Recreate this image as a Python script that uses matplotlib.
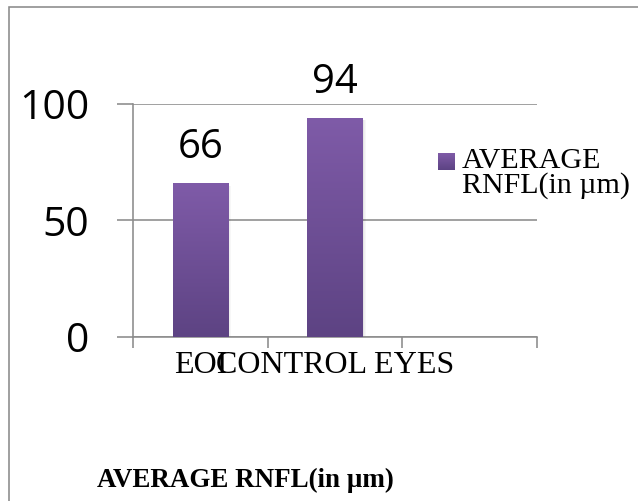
import numpy as np
import matplotlib
matplotlib.use("Agg")
import matplotlib.pyplot as plt
from matplotlib.patches import Rectangle
from matplotlib.colors import LinearSegmentedColormap

# data
categories = ["EOI", "CONTROL EYES"]
values = [66, 94]
series_name = "AVERAGE\nRNFL(in µm)"
chart_title = "AVERAGE RNFL(in µm)"
y_ticks = [0, 50, 100]

W, H = 638, 501
DPI = 100
PX = 72 / DPI  # points per pixel

fig = plt.figure(figsize=(W / DPI, H / DPI), dpi=DPI)
fig.patch.set_facecolor("white")

grid_col = "#8c8c8c"
top_col = "#7f5ba8"
bot_col = "#5d4383"

# outer chart frame (extends past right and bottom edges)
frame = Rectangle((9 / W, -0.1), 1.2, (H - 7) / H + 0.1,
                  transform=fig.transFigure, fill=False,
                  edgecolor="#8a8a8a", linewidth=1.6 * PX, zorder=0)
fig.patches.append(frame)

ax = fig.add_axes([133 / W, 1 - 337 / H, (537 - 133) / W, (337 - 104) / H])
ax.set_facecolor("none")

n_slots = 3
x = np.arange(len(categories))
bar_w = 0.41
bars = ax.bar(x, values, width=bar_w, color=top_col, zorder=3, linewidth=0)

# vertical gradient fill inside each bar
cmap = LinearSegmentedColormap.from_list("purp", [bot_col, top_col])
grad = np.linspace(0, 1, 256).reshape(-1, 1)
for b in bars:
    x0, y0 = b.get_x(), b.get_y()
    w, h = b.get_width(), b.get_height()
    # soft shadow along the right edge
    for k, a in enumerate([0.10, 0.06, 0.03]):
        ax.add_patch(Rectangle((x0 + w + k * 0.008, y0), 0.008, h - 1.0,
                               facecolor="black", alpha=a, linewidth=0, zorder=2))
    im = ax.imshow(grad, extent=[x0, x0 + w, y0, y0 + h], origin="lower",
                   cmap=cmap, aspect="auto", zorder=3.5)
    im.set_clip_path(b)
ax.set_xlim(-0.5, n_slots - 0.5)
ax.set_ylim(0, 100)

# value labels above bars
for xi, v in zip(x, values):
    ax.annotate(f"{v}", (xi, v), xytext=(0, 15 * PX), textcoords="offset points",
                ha="center", va="bottom", fontsize=40 * PX, family="Open Sans",
                color="black", zorder=5)

# gridlines and axes lines
ax.set_yticks(y_ticks)
ax.set_yticklabels([str(t) for t in y_ticks], family="Open Sans", fontsize=41 * PX)
ax.yaxis.grid(True, color=grid_col, linewidth=1.6 * PX, zorder=1)
ax.set_axisbelow(True)
ax.tick_params(axis="y", length=16 * PX, width=1.6 * PX, color=grid_col,
               pad=28 * PX, direction="out")

ax.set_xticks(np.arange(n_slots + 1) - 0.5)
ax.set_xticklabels([])
ax.set_xticks(x, minor=True)
ax.set_xticklabels(categories, minor=True, family="Liberation Serif",
                   fontsize=32 * PX)
ax.tick_params(axis="x", which="major", length=11 * PX, width=1.6 * PX,
               color=grid_col, direction="out")
ax.tick_params(axis="x", which="minor", length=0, pad=14 * PX)

for s in ["top", "right"]:
    ax.spines[s].set_visible(False)
for s in ["left", "bottom"]:
    ax.spines[s].set_color(grid_col)
    ax.spines[s].set_linewidth(1.6 * PX)

# legend drawn by hand: swatch aligned to first line of text
sw_x0, sw_y0, sw = 438, 153, 17
leg_grad_ax = fig.add_axes([sw_x0 / W, 1 - (sw_y0 + sw) / H, sw / W, sw / H])
leg_grad_ax.imshow(grad, cmap=cmap, origin="lower", aspect="auto")
leg_grad_ax.axis("off")
fig.text(462 / W, 1 - 148 / H, series_name, ha="left", va="top",
         family="Liberation Serif", fontsize=30 * PX, linespacing=0.92)

# chart title at the bottom
fig.text(245 / W, 1 - 487 / H, chart_title, ha="center", va="baseline",
         family="Liberation Serif", fontweight="bold", fontsize=27 * PX)

fig.savefig("out.png", dpi=DPI)
